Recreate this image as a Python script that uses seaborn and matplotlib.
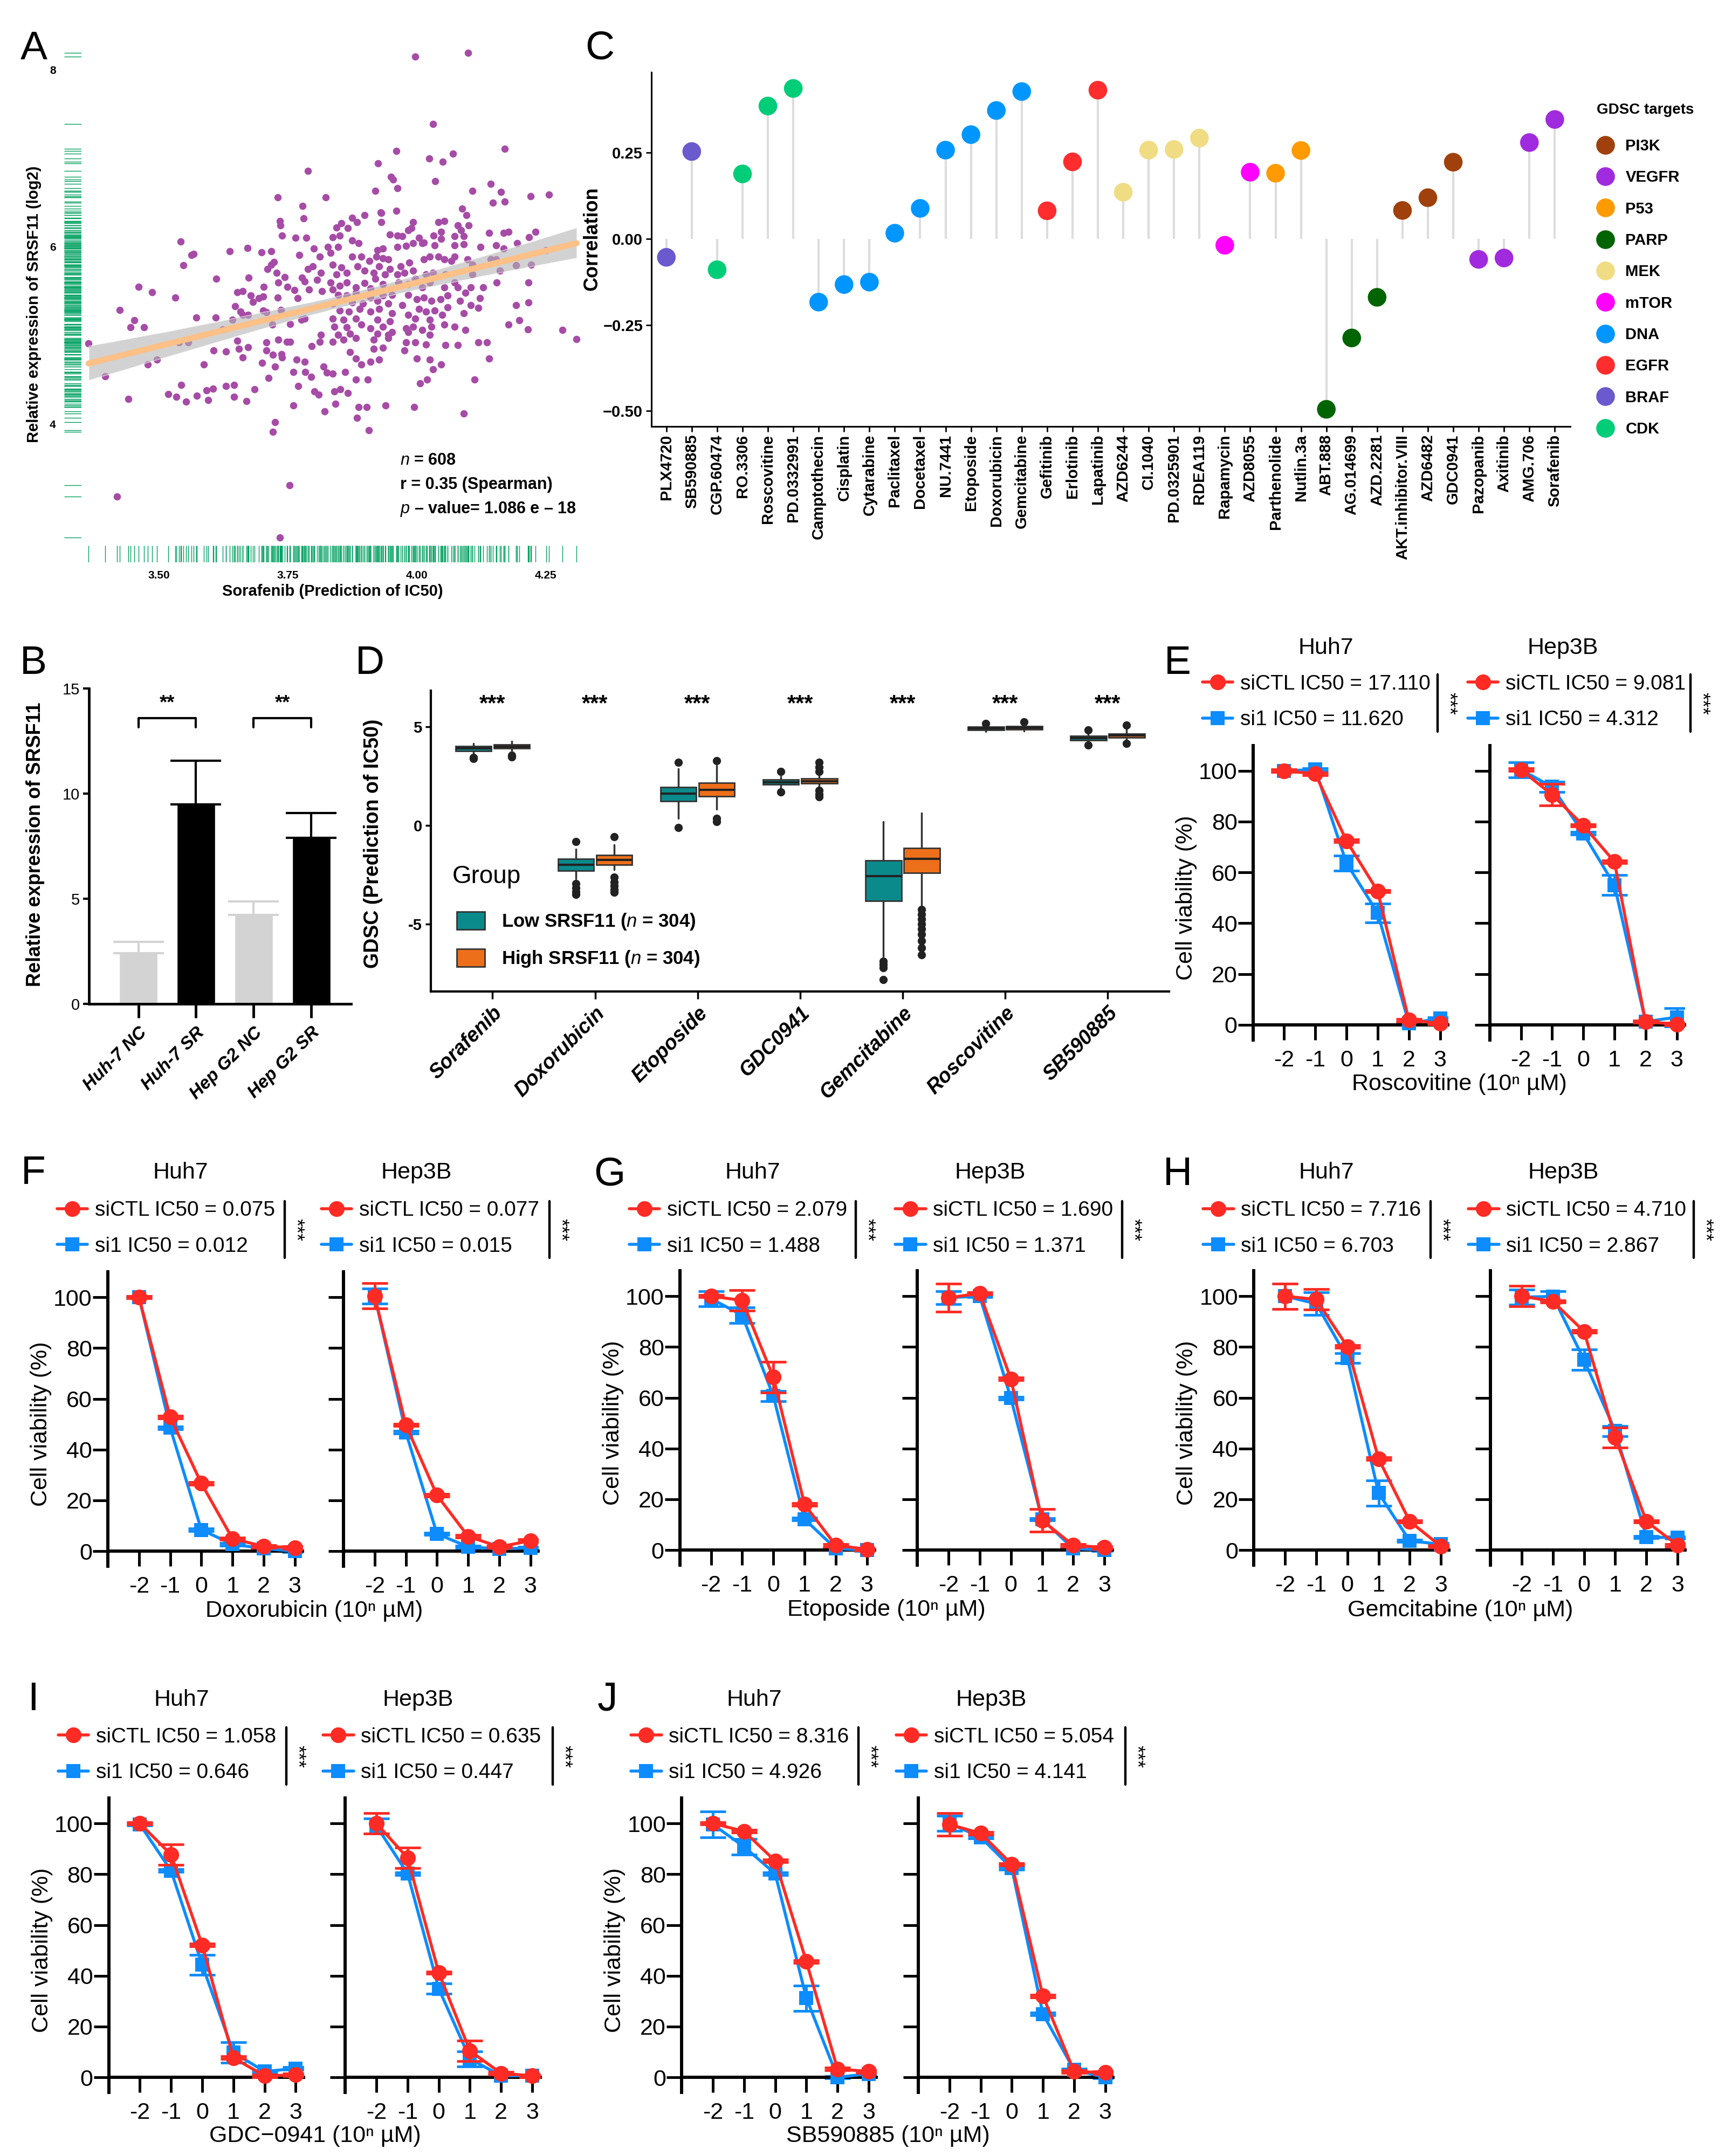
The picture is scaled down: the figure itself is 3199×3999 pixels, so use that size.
import numpy as np
import pandas as pd
import matplotlib
matplotlib.use("Agg")
import matplotlib.pyplot as plt
from matplotlib.lines import Line2D
from matplotlib.patches import Patch
import seaborn as sns

# ---------------- A: Sorafenib predicted IC50 vs SRSF11 ----------------
a_sorafenib = [
    3.997, 4.099, 4.032, 4.171, 3.960, 4.070, 4.024, 4.050, 3.925, 3.950,
    3.954, 4.036, 3.963, 3.920, 4.108, 4.143, 4.163, 4.221, 4.256, 4.148,
    4.171, 4.088, 3.960, 3.930, 3.735,
    3.875, 3.884, 3.899, 3.931, 3.931, 3.993, 4.042, 4.053, 4.096, 4.080, 4.101,
    3.844, 3.854, 3.866, 3.948, 3.962, 3.972, 3.983, 3.990, 4.004, 4.014, 4.033, 4.047,
    4.047, 4.073, 4.086, 4.091, 4.140, 4.168, 4.178, 4.218, 4.230, 3.851, 3.837,
    3.833, 3.847, 3.875, 3.887, 3.924, 3.934, 3.962, 3.979, 3.993, 4.011, 4.035, 4.073,
    4.091, 4.124, 4.154, 4.168, 4.195, 4.251, 3.875, 3.892, 3.908, 3.922, 3.934, 3.945,
    3.837, 3.854, 3.885, 3.899, 3.927, 3.948, 3.969, 3.986, 3.993, 4.014, 4.025, 4.042,
    4.053, 4.067, 4.073, 4.098, 4.108, 4.143, 4.154, 4.161, 4.192, 4.222, 3.844, 3.864,
    3.917, 3.938, 3.962, 3.976, 4.018, 4.032, 4.056, 4.108,
    3.833, 3.851, 3.882, 3.899, 3.920, 3.934, 3.965, 3.983, 3.997, 4.011, 4.025,
    4.053, 4.073, 4.080, 4.105, 4.129, 4.155, 4.216, 3.864, 3.837, 3.910,
    3.847, 3.864, 3.882, 3.910, 3.934, 3.952, 3.983, 4.000, 4.014, 4.028, 4.046, 4.060,
    4.084, 4.094, 4.122, 4.192, 4.216, 3.837, 3.875, 3.896, 3.924, 3.945, 3.972,
    3.851, 3.868, 3.889, 3.910, 3.927, 3.952, 3.983, 4.004, 4.018, 4.035, 4.049,
    4.060, 4.091, 4.105, 4.119, 3.837, 3.858, 3.882, 3.924, 3.948, 3.997, 4.025,
    3.840, 3.864, 3.892, 3.910, 3.934, 3.952, 3.979, 3.993, 4.011, 4.028, 4.053, 4.073,
    4.094, 4.178, 4.199, 4.215, 4.282, 3.847, 3.871, 3.924, 3.945, 3.983, 4.025,
    3.837, 3.858, 3.882, 3.917, 3.945, 3.979, 3.997, 4.018, 4.056, 4.080, 4.119, 4.136,
    4.310, 3.871, 3.917, 3.976, 3.934,
    3.882, 3.892, 3.910, 3.927, 4.000, 4.025, 4.032, 4.047, 4.140, 3.837, 3.861, 3.882,
    3.905, 4.006, 4.020, 4.112,
    3.840, 3.852, 3.866, 3.842, 3.887, 3.903, 3.939, 3.995, 3.884, 4.091, 3.907,
    3.364, 3.396, 3.424, 3.441, 3.445, 3.452, 3.461, 3.471, 3.479, 3.487,
    3.496, 3.518, 3.532, 3.534, 3.539, 3.542, 3.543, 3.547, 3.553, 3.557,
    3.563, 3.567, 3.573, 3.574, 3.587, 3.592, 3.596, 3.605, 3.606, 3.610,
    3.611, 3.624, 3.630, 3.630, 3.637, 3.643, 3.646, 3.646, 3.648, 3.652,
    3.662, 3.652, 3.655, 3.658, 3.662, 3.662, 3.670, 3.672, 3.673, 3.673,
    3.674, 3.678, 3.682, 3.686, 3.694, 3.702, 3.699, 3.700, 3.702, 3.708,
    3.703, 3.708, 3.708, 3.711, 3.718, 3.723, 3.713, 3.718, 3.720, 3.721,
    3.721, 3.725, 3.725, 3.728, 3.730, 3.730, 3.732, 3.732, 3.735, 3.736,
    3.737, 3.738, 3.739, 3.739, 3.744, 3.749, 3.748, 3.755, 3.755, 3.761,
    3.761, 3.763, 3.765, 3.767, 3.769, 3.770, 3.772, 3.776, 3.783, 3.777,
    3.783, 3.779, 3.781, 3.783, 3.784, 3.786, 3.789, 3.789, 3.798, 3.791,
    3.795, 3.796, 3.800, 3.802, 3.810, 3.807, 3.812, 3.814, 3.816, 3.814,
    3.812, 3.819, 3.821, 3.823, 3.826, 3.828, 3.753, 3.419,
]
a_srsf11 = [
    8.15, 8.19, 7.39, 7.11, 7.08, 7.05, 7.00, 6.96, 6.94, 6.79,
    6.76, 6.74, 6.66, 6.63, 6.63, 6.71, 6.62, 6.57, 6.59, 6.50,
    6.51, 6.43, 6.41, 6.39, 2.72,
    6.33, 6.28, 6.36, 6.38, 6.28, 6.28, 6.28, 6.29, 6.36, 6.24, 6.24,
    6.22, 6.27, 6.21, 6.14, 6.13, 6.12, 6.19, 6.21, 6.10, 6.05, 6.13, 6.17,
    6.09, 6.12, 6.19, 6.12, 6.16, 6.16, 6.17, 6.11, 6.17, 6.13, 6.11,
    5.93, 6.00, 6.07, 6.04, 5.96, 5.98, 6.00, 6.01, 6.04, 6.04, 6.02, 6.02,
    6.03, 6.00, 6.02, 5.98, 6.04, 5.96, 5.89, 5.89, 5.84, 5.89, 5.87, 5.86,
    5.80, 5.77, 5.78, 5.73, 5.78, 5.75, 5.78, 5.82, 5.73, 5.86, 5.89, 5.89,
    5.86, 5.84, 5.89, 5.86, 5.80, 5.86, 5.86, 5.73, 5.79, 5.80, 5.69, 5.71,
    5.71, 5.69, 5.69, 5.71, 5.69, 5.71, 5.69, 5.69,
    5.60, 5.56, 5.54, 5.59, 5.64, 5.58, 5.60, 5.58, 5.64, 5.54, 5.60,
    5.54, 5.60, 5.54, 5.54, 5.54, 5.60, 5.60, 5.60, 5.52, 5.53,
    5.46, 5.45, 5.48, 5.43, 5.45, 5.46, 5.46, 5.41, 5.43, 5.39, 5.41, 5.45,
    5.39, 5.48, 5.42, 5.34, 5.37, 5.36, 5.37, 5.36, 5.39, 5.36, 5.34,
    5.28, 5.27, 5.30, 5.27, 5.30, 5.25, 5.23, 5.30, 5.27, 5.28, 5.23,
    5.32, 5.25, 5.34, 5.31, 5.19, 5.18, 5.19, 5.18, 5.16, 5.19, 5.18,
    5.10, 5.09, 5.12, 5.08, 5.10, 5.04, 5.08, 5.10, 5.06, 5.10, 5.12, 5.10,
    5.06, 5.12, 5.17, 5.07, 5.06, 5.01, 5.02, 5.02, 5.01, 5.04, 5.01,
    4.93, 4.95, 4.97, 4.95, 4.97, 4.92, 4.92, 4.90, 4.89, 4.89, 4.92, 4.92,
    4.96, 4.81, 4.85, 4.83, 4.86,
    4.74, 4.67, 4.70, 4.73, 4.74, 4.73, 4.62, 4.67, 4.74, 4.57, 4.59, 4.50,
    4.50, 4.46, 4.50, 4.50,
    4.37, 4.39, 4.35, 4.23, 4.19, 4.19, 4.21, 4.19, 4.07, 4.12, 3.93,
    4.91, 4.54, 5.29, 4.28, 5.09, 5.17, 5.55, 5.09, 4.67, 5.49,
    4.73, 4.34, 5.43, 4.31, 4.92, 6.06, 4.44, 5.79, 4.25, 4.92,
    5.91, 5.92, 5.20, 4.32, 4.67, 4.38, 4.27, 4.40, 4.83, 5.20,
    5.64, 5.07, 4.82, 4.43, 5.95, 5.18, 4.44, 4.31, 5.33, 5.49,
    5.50, 4.94, 4.85, 5.27, 5.23, 4.75, 4.26, 5.99, 5.23, 4.87,
    5.65, 5.45, 5.38, 4.39, 5.42, 5.44, 5.94, 4.69, 5.28, 5.26,
    5.55, 4.92, 4.83, 5.75, 5.80, 5.83, 4.52, 5.95, 5.12, 4.78,
    3.91, 4.65, 4.02, 5.71, 6.56, 5.43, 4.95, 5.60, 6.29, 6.24,
    5.29, 4.79, 4.75, 6.13, 5.66, 5.55, 4.93, 4.93, 5.13, 4.59,
    4.21, 5.51, 6.10, 4.73, 5.42, 4.43, 5.91, 5.18, 5.19, 5.65,
    5.61, 6.46, 6.32, 4.70, 4.59, 6.10, 6.86, 5.75, 5.78, 5.52,
    4.53, 4.88, 5.98, 4.37, 4.33, 5.63, 5.89, 5.71, 5.50, 5.01,
    4.93, 4.65, 4.14, 6.56, 4.58, 6.00, 3.31, 3.18,
]
a_x_ticks = [3.50, 3.75, 4.00, 4.25]
a_x_labels = ['3.50', '3.75', '4.00', '4.25']
a_y_ticks = [4, 6, 8]
a_notes = ['$\\mathit{n}$ = 608', 'r = 0.35 (Spearman)', '$\\mathit{p}$ \u2013 value= 1.086 e \u2013 18']

# ---------------- B: qPCR SRSF11 ----------------
b_groups = ['Huh-7 NC', 'Huh-7 SR', 'Hep G2 NC', 'Hep G2 SR']
b_expr = [2.40, 9.50, 4.23, 7.91]
b_sd = [0.55, 2.07, 0.63, 1.18]
b_colors = ['#D3D3D3', '#000000', '#D3D3D3', '#000000']
b_pairs = [(0, 1), (2, 3)]
b_bracket_y = [13.6, 13.6]
b_sig = ['**', '**']

# ---------------- C: correlation lollipop ----------------
c_drugs = ['PLX4720', 'SB590885', 'CGP.60474', 'RO.3306', 'Roscovitine', 'PD.0332991',
           'Camptothecin', 'Cisplatin', 'Cytarabine', 'Paclitaxel', 'Docetaxel', 'NU.7441',
           'Etoposide', 'Doxorubicin', 'Gemcitabine', 'Gefitinib', 'Erlotinib', 'Lapatinib',
           'AZD6244', 'CI.1040', 'PD.0325901', 'RDEA119', 'Rapamycin', 'AZD8055',
           'Parthenolide', 'Nutlin.3a', 'ABT.888', 'AG.014699', 'AZD.2281', 'AKT.inhibitor.VIII',
           'AZD6482', 'GDC0941', 'Pazopanib', 'Axitinib', 'AMG.706', 'Sorafenib']
c_corr = [-0.054, 0.253, -0.090, 0.188, 0.385, 0.436,
          -0.184, -0.133, -0.126, 0.016, 0.088, 0.257,
          0.302, 0.372, 0.427, 0.081, 0.223, 0.431,
          0.135, 0.257, 0.259, 0.292, -0.019, 0.193,
          0.190, 0.256, -0.495, -0.288, -0.170, 0.082,
          0.119, 0.222, -0.060, -0.056, 0.279, 0.346]
c_targets = ['BRAF', 'BRAF', 'CDK', 'CDK', 'CDK', 'CDK',
             'DNA', 'DNA', 'DNA', 'DNA', 'DNA', 'DNA',
             'DNA', 'DNA', 'DNA', 'EGFR', 'EGFR', 'EGFR',
             'MEK', 'MEK', 'MEK', 'MEK', 'mTOR', 'mTOR',
             'P53', 'P53', 'PARP', 'PARP', 'PARP', 'PI3K',
             'PI3K', 'PI3K', 'VEGFR', 'VEGFR', 'VEGFR', 'VEGFR']
c_target_order = ['PI3K', 'VEGFR', 'P53', 'PARP', 'MEK', 'mTOR', 'DNA', 'EGFR', 'BRAF', 'CDK']
c_target_colors = ['#A0410D', '#A02BDE', '#FF9A00', '#006400', '#F0DC82', '#FF00FF',
                   '#0096FF', '#FF2D2D', '#6A5ACD', '#00CD78']
c_y_ticks = [-0.50, -0.25, 0.00, 0.25]
c_y_labels = ['\u22120.50', '\u22120.25', '0.00', '0.25']

# ---------------- D: GDSC predicted IC50 by SRSF11 group (box statistics) ----------------
d_drugs = ['Sorafenib', 'Doxorubicin', 'Etoposide', 'GDC0941', 'Gemcitabine', 'Roscovitine', 'SB590885']
d_low_med = [3.90, -2.00, 1.62, 2.20, -2.55, 4.92, 4.43]
d_low_q1 = [3.78, -2.28, 1.23, 2.09, -3.81, 4.84, 4.32]
d_low_q3 = [4.02, -1.68, 1.93, 2.33, -1.76, 5.00, 4.53]
d_low_lo = [3.60, -2.70, 0.36, 1.90, -6.64, 4.75, 4.15]
d_low_hi = [4.15, -1.21, 2.88, 2.50, 0.20, 5.08, 4.70]
d_low_out = [[3.45, 3.40], [-0.82, -2.95, -3.15, -3.35, -3.50], [3.19, -0.11], [2.72, 1.70],
             [-6.87, -7.05, -7.19, -7.81], [5.16], [4.84, 4.06]]
d_high_med = [4.00, -1.73, 1.81, 2.25, -1.68, 4.95, 4.56]
d_high_q1 = [3.90, -2.00, 1.49, 2.12, -2.39, 4.87, 4.45]
d_high_q3 = [4.10, -1.49, 2.17, 2.37, -1.13, 5.03, 4.65]
d_high_lo = [3.70, -2.23, 0.83, 1.95, -4.12, 4.78, 4.25]
d_high_hi = [4.25, -0.97, 3.03, 2.60, 0.64, 5.12, 4.85]
d_high_out = [[3.46, 3.55], [-0.58, -2.63, -2.85, -3.05, -3.25, -3.38], [3.27, 0.36, 0.20],
              [2.72, 2.95, 3.19, 1.78, 1.60, 1.46],
              [-4.25, -4.50, -4.75, -5.00, -5.25, -5.50, -5.85, -6.20, -6.56], [5.24], [5.08, 4.14]]
d_star_y = 6.15
d_groups = ['Low SRSF11 ($\\mathit{n}$ = 304)', 'High SRSF11 ($\\mathit{n}$ = 304)']

# ---------------- E-J: cell viability curves (mean, SD) ----------------
dose = [-2, -1, 0, 1, 2, 3]
dose_labels = ['-2', '-1', '0', '1', '2', '3']
viab_ticks = [0, 20, 40, 60, 80, 100]

e_huh7_ctl = [100, 98.8, 72.4, 52.6, 1.8, 0.6]
e_huh7_ctl_err = [0.5, 0.5, 0.5, 0.5, 0.5, 0.5]
e_huh7_si = [100, 100.5, 63.6, 44.0, 0.6, 2.4]
e_huh7_si_err = [0.5, 0.5, 3.0, 3.7, 0.5, 0.5]
e_hep_ctl = [100.4, 90.6, 78.5, 64.2, 1.2, 0.2]
e_hep_ctl_err = [0.5, 4.3, 0.5, 0.5, 0.5, 0.5]
e_hep_si = [100.4, 93.7, 75.4, 55.0, 1.2, 3.0]
e_hep_si_err = [3.0, 2.0, 0.5, 4.0, 0.5, 3.6]
e_ic50 = [('17.110', '11.620'), ('9.081', '4.312')]

f_huh7_ctl = [100, 52.8, 26.7, 4.9, 1.9, 1.4]
f_huh7_ctl_err = [0.5, 0.5, 0.5, 0.5, 0.5, 0.5]
f_huh7_si = [100, 48.6, 8.4, 2.7, 1.0, 0.0]
f_huh7_si_err = [0.5, 0.5, 0.5, 0.5, 0.5, 0.5]
f_hep_ctl = [100.5, 49.7, 22.0, 5.8, 1.7, 4.1]
f_hep_ctl_err = [5.0, 0.5, 0.5, 0.5, 0.5, 0.5]
f_hep_si = [100.5, 46.8, 6.8, 1.7, 0.9, 1.3]
f_hep_si_err = [3.0, 0.5, 0.5, 0.5, 0.5, 0.5]
f_ic50 = [('0.075', '0.012'), ('0.077', '0.015')]

g_huh7_ctl = [100, 98.3, 68.1, 18.0, 1.9, 0.3]
g_huh7_ctl_err = [0.5, 4.0, 6.0, 0.5, 0.5, 0.5]
g_huh7_si = [99.0, 92.5, 60.7, 12.2, 0.6, 0.0]
g_huh7_si_err = [3.0, 3.0, 2.0, 0.5, 0.5, 0.5]
g_hep_ctl = [99.4, 101.1, 67.4, 11.7, 1.9, 1.0]
g_hep_ctl_err = [5.5, 0.5, 0.5, 4.5, 0.5, 0.5]
g_hep_si = [99.4, 100.0, 59.8, 12.1, 0.6, 0.0]
g_hep_si_err = [2.5, 0.5, 0.5, 0.5, 0.5, 0.5]
g_ic50 = [('2.079', '1.488'), ('1.690', '1.371')]

h_huh7_ctl = [100, 98.7, 80.1, 36.0, 11.3, 1.5]
h_huh7_ctl_err = [5.0, 4.0, 0.5, 0.5, 0.5, 0.5]
h_huh7_si = [100, 97.0, 75.6, 22.5, 3.6, 2.3]
h_huh7_si_err = [5.0, 4.5, 2.0, 5.0, 0.5, 0.5]
h_hep_ctl = [100, 97.9, 86.1, 44.3, 11.3, 1.9]
h_hep_ctl_err = [4.0, 0.5, 0.5, 4.0, 0.5, 0.5]
h_hep_si = [99.6, 99.9, 74.9, 46.9, 5.1, 4.9]
h_hep_si_err = [3.0, 2.0, 4.0, 2.0, 0.5, 0.5]
h_ic50 = [('7.716', '6.703'), ('4.710', '2.867')]

i_huh7_ctl = [100, 87.7, 52.1, 7.7, 0.6, 1.0]
i_huh7_ctl_err = [0.5, 4.0, 0.5, 0.5, 0.5, 0.5]
i_huh7_si = [99.6, 81.4, 44.3, 9.8, 2.3, 3.5]
i_huh7_si_err = [0.5, 0.5, 4.0, 4.0, 0.5, 0.5]
i_hep_ctl = [100, 86.4, 41.2, 10.4, 1.6, 0.6]
i_hep_ctl_err = [4.0, 4.0, 0.5, 4.0, 0.5, 0.5]
i_hep_si = [99.0, 80.2, 34.9, 7.3, 0.6, 0.6]
i_hep_si_err = [3.0, 0.5, 2.0, 3.0, 0.5, 0.5]
i_ic50 = [('1.058', '0.646'), ('0.635', '0.447')]

j_huh7_ctl = [100, 96.9, 85.2, 45.6, 3.3, 2.3]
j_huh7_ctl_err = [0.5, 0.5, 0.5, 0.5, 0.5, 0.5]
j_huh7_si = [99.6, 90.8, 80.2, 31.2, 0.0, 1.4]
j_huh7_si_err = [5.0, 3.0, 0.5, 5.0, 0.5, 0.5]
j_hep_ctl = [99.6, 96.1, 83.9, 32.0, 2.3, 1.9]
j_hep_ctl_err = [4.5, 0.5, 0.5, 0.5, 0.5, 0.5]
j_hep_si = [100, 94.6, 82.3, 24.9, 2.9, 0.0]
j_hep_si_err = [3.0, 0.5, 0.5, 0.5, 0.5, 0.5]
j_ic50 = [('8.316', '4.926'), ('5.054', '4.141')]

cell_lines = ['Huh7', 'Hep3B']

# ---------------- style ----------------
sns.set_style('ticks')
plt.rcParams['font.family'] = ['Liberation Sans', 'DejaVu Sans']
plt.rcParams['mathtext.fontset'] = 'custom'
plt.rcParams['mathtext.rm'] = 'Liberation Sans'
plt.rcParams['mathtext.it'] = 'Liberation Sans:italic'
plt.rcParams['mathtext.bf'] = 'Liberation Sans:bold'
for k in ['text.color', 'axes.labelcolor', 'xtick.color', 'ytick.color', 'axes.edgecolor']:
    plt.rcParams[k] = 'black'

RED = '#FF2B24'
BLUE = '#0C8CFF'
GREEN_RUG = '#00A060'

W, H = 3199, 3999
fig = plt.figure(figsize=(W / 100, H / 100), dpi=100)
fig.patch.set_facecolor('white')


def box(left, top, right, bottom):
    return [left / W, 1 - bottom / H, (right - left) / W, (bottom - top) / H]


def fx(x):
    return x / W


def fy(y):
    return 1 - y / H


# ---------------- panel A ----------------
ax_a = fig.add_axes(box(152, 85, 1079, 1005))
sns.regplot(x=a_sorafenib, y=a_srsf11, ax=ax_a, ci=95, seed=0,
            scatter_kws=dict(s=95, color='#A64CA6', linewidths=0, alpha=1),
            line_kws=dict(color='#FDC086', lw=8))
band = ax_a.collections[-1]
band.set_facecolor('#B4B4B4')
band.set_alpha(0.6)
ax_a.set_xlim(3.351, 4.320)
ax_a.set_ylim(2.67, 8.27)
ax_a.axis('off')

ax_ly = fig.add_axes(box(119, 85, 151, 1005))
sns.rugplot(y=a_srsf11, ax=ax_ly, height=1, color=GREEN_RUG, lw=2.6, expand_margins=False)
ax_ly.set_ylim(2.67, 8.27)
ax_ly.set_xlim(0, 1)
ax_ly.set_xticks([])
ax_ly.set_yticks(a_y_ticks)
ax_ly.set_yticklabels([str(t) for t in a_y_ticks], fontsize=15, fontweight='bold')
ax_ly.tick_params(axis='y', length=0, pad=11)
for s in ax_ly.spines.values():
    s.set_visible(False)
ax_ly.set_facecolor('none')

ax_lx = fig.add_axes(box(152, 1012, 1079, 1043))
sns.rugplot(x=a_sorafenib, ax=ax_lx, height=1, color=GREEN_RUG, lw=2.6, expand_margins=False)
ax_lx.set_xlim(3.351, 4.320)
ax_lx.set_ylim(0, 1)
ax_lx.set_yticks([])
ax_lx.set_xticks(a_x_ticks)
ax_lx.set_xticklabels(a_x_labels, fontsize=15, fontweight='bold')
ax_lx.tick_params(axis='x', length=0, pad=11)
for s in ax_lx.spines.values():
    s.set_visible(False)
ax_lx.set_facecolor('none')

fig.text(fx(63), fy(564), 'Relative expression of SRSF11 (log2)', rotation=90,
         ha='center', va='center', fontsize=21, fontweight='bold')
fig.text(fx(617), fy(1097), 'Sorafenib (Prediction of IC50)', ha='center', va='center',
         fontsize=21, fontweight='bold')
for k, note in enumerate(a_notes):
    fig.text(fx(742), fy(854 + 45 * k), note, ha='left', va='center', fontsize=22, fontweight='bold')

# ---------------- panel C ----------------
ax_c = fig.add_axes(box(1207.5, 134, 2911.6, 790.5))
c_pos = np.arange(len(c_drugs))
ax_c.vlines(c_pos, 0, c_corr, color='#DDDDDD', lw=3, zorder=1)
sns.scatterplot(x=c_pos, y=c_corr, hue=c_targets, hue_order=c_target_order,
                palette=dict(zip(c_target_order, c_target_colors)), s=620, linewidth=0,
                legend=False, ax=ax_c, zorder=3)
ax_c.set_xlim(-0.6, 35.6)
ax_c.set_ylim(-0.544, 0.483)
ax_c.set_xticks(c_pos)
ax_c.set_xticklabels(c_drugs, rotation=90, fontsize=21, fontweight='bold')
ax_c.set_yticks(c_y_ticks)
ax_c.set_yticklabels(c_y_labels, fontsize=21, fontweight='bold')
ax_c.tick_params(length=7, width=2, pad=4)
sns.despine(ax=ax_c)
for s in ['left', 'bottom']:
    ax_c.spines[s].set_linewidth(2.2)
fig.text(fx(1098), fy(443), 'Correlation', rotation=90, ha='center', va='center',
         fontsize=26, fontweight='bold')
fig.text(fx(2961), fy(204), 'GDSC targets', ha='left', va='center', fontsize=20, fontweight='bold')
c_handles = [Line2D([], [], ls='', marker='o', ms=25, color=c, markeredgewidth=0) for c in c_target_colors]
ax_c.legend(c_handles, c_target_order, loc='upper left', bbox_to_anchor=(fx(2959), fy(257)),
            bbox_transform=fig.transFigure, frameon=False, borderpad=0, borderaxespad=0,
            handlelength=1.2, handletextpad=0.7, labelspacing=1.04,
            prop=dict(size=21, weight='bold'))

# ---------------- panel B ----------------
ax_b = fig.add_axes(box(164.5, 1277.4, 651.3, 1861.8))
sns.barplot(x=b_groups, y=b_expr, hue=b_groups, palette=b_colors, legend=False, width=0.67,
            saturation=1, errorbar=None, ax=ax_b)
for i in range(len(b_groups)):
    ax_b.errorbar(i, b_expr[i], yerr=[[0], [b_sd[i]]], fmt='none', ecolor=b_colors[i],
                  elinewidth=3, capsize=34, capthick=3)
for (i, j), yb, sig in zip(b_pairs, b_bracket_y, b_sig):
    ax_b.plot([i, i, j, j], [yb - 0.45, yb, yb, yb - 0.45], color='black', lw=3)
    ax_b.text((i + j) / 2, yb + 0.25, sig, ha='center', va='bottom', fontsize=26, fontweight='bold')
ax_b.set_xlim(-0.86, 3.69)
ax_b.set_ylim(0, 15)
ax_b.set_yticks([0, 5, 10, 15])
ax_b.set_yticklabels(['0', '5', '10', '15'], fontsize=21)
ax_b.set_xticks(range(len(b_groups)))
ax_b.set_xticklabels(b_groups, rotation=45, ha='right', rotation_mode='anchor',
                     fontsize=24, fontweight='bold', fontstyle='italic')
ax_b.tick_params(axis='x', length=19, width=3.5, pad=8)
ax_b.tick_params(axis='y', length=8, width=3, pad=4)
sns.despine(ax=ax_b)
for s in ['left', 'bottom']:
    ax_b.spines[s].set_linewidth(3.5)
ax_b.set_xlabel('')
ax_b.set_ylabel('')
fig.text(fx(66), fy(1566), 'Relative expression of SRSF11', rotation=90, ha='center', va='center',
         fontsize=26, fontweight='bold')

# ---------------- panel D ----------------
D_LOW = '#0B8A8C'
D_HIGH = '#EE6F1A'


def box_stats(med, q1, q3, lo, hi, out):
    return [dict(med=m, q1=a, q3=b, whislo=c, whishi=d, fliers=f)
            for m, a, b, c, d, f in zip(med, q1, q3, lo, hi, out)]


ax_d = fig.add_axes(box(799.4, 1280.9, 2168, 1838.9))
d_pos = np.arange(len(d_drugs))
for stats, offset, col in [(box_stats(d_low_med, d_low_q1, d_low_q3, d_low_lo, d_low_hi, d_low_out), -0.187, D_LOW),
                           (box_stats(d_high_med, d_high_q1, d_high_q3, d_high_lo, d_high_hi, d_high_out), 0.187, D_HIGH)]:
    ax_d.bxp(stats, positions=d_pos + offset, widths=0.35, patch_artist=True, showcaps=False,
             manage_ticks=False,
             boxprops=dict(facecolor=col, edgecolor='#333333', lw=2),
             medianprops=dict(color='#222222', lw=3),
             whiskerprops=dict(color='#333333', lw=2.5),
             flierprops=dict(marker='o', markerfacecolor='#222222', markeredgecolor='#222222', markersize=10))
for p in d_pos:
    ax_d.text(p, d_star_y, '***', ha='center', va='center', fontsize=30, fontweight='bold')
ax_d.set_xlim(-0.6, 6.6)
ax_d.set_ylim(-8.4, 6.83)
ax_d.set_yticks([-5, 0, 5])
ax_d.set_yticklabels(['-5', '0', '5'], fontsize=21, fontweight='bold')
ax_d.set_xticks(d_pos)
ax_d.set_xticklabels(d_drugs, rotation=45, ha='right', rotation_mode='anchor',
                     fontsize=27, fontweight='bold', fontstyle='italic')
ax_d.tick_params(axis='x', length=10, width=2.5, pad=6)
ax_d.tick_params(axis='y', length=7, width=2.5, pad=5)
sns.despine(ax=ax_d)
for s in ['left', 'bottom']:
    ax_d.spines[s].set_linewidth(3)
fig.text(fx(692), fy(1565), 'GDSC (Prediction of IC50)', rotation=90, ha='center', va='center',
         fontsize=27, fontweight='bold')
fig.text(fx(839), fy(1626), 'Group', ha='left', va='center', fontsize=33)
d_handles = [Patch(facecolor=D_LOW, edgecolor='#333333', lw=2), Patch(facecolor=D_HIGH, edgecolor='#333333', lw=2)]
ax_d.legend(d_handles, d_groups, loc='center left', bbox_to_anchor=(fx(847), fy(1744)),
            bbox_transform=fig.transFigure, frameon=False, borderpad=0, borderaxespad=0,
            handlelength=1.5, handleheight=1.1, handletextpad=0.9, labelspacing=0.9,
            prop=dict(size=25, weight='bold'))

# ---------------- panels E-J ----------------
AX_W = 6.25 * 57.8
AX_H = 116 * 4.71


def draw_curve(ax, ctl, ctl_err, si, si_err, show_labels):
    ax.errorbar(dose, si, yerr=si_err, fmt='none', ecolor=BLUE, elinewidth=3.5, capsize=17,
                capthick=3.5, zorder=2)
    sns.lineplot(x=dose, y=si, ax=ax, color=BLUE, lw=4, marker='s', markersize=19,
                 markeredgewidth=0, errorbar=None, zorder=3)
    ax.errorbar(dose, ctl, yerr=ctl_err, fmt='none', ecolor=RED, elinewidth=3.5, capsize=17,
                capthick=3.5, zorder=3.5)
    sns.lineplot(x=dose, y=ctl, ax=ax, color=RED, lw=4, marker='o', markersize=21,
                 markeredgewidth=0, errorbar=None, zorder=4)
    ax.set_xlim(-3, 3.25)
    ax.set_ylim(-6, 110)
    ax.spines['top'].set_visible(False)
    ax.spines['right'].set_visible(False)
    ax.spines['bottom'].set_position(('data', 0))
    for s in ['left', 'bottom']:
        ax.spines[s].set_linewidth(4.3)
    ax.set_xticks(dose)
    ax.set_xticklabels(dose_labels)
    ax.set_yticks(viab_ticks)
    ax.tick_params(axis='both', direction='out', length=20, width=3.6, labelsize=31)
    ax.tick_params(axis='x', pad=13)
    ax.tick_params(axis='y', pad=1, labelleft=show_labels)
    ax.set_xlabel('')
    ax.set_ylabel('')
    ax.set_facecolor('none')


curve_panels = [
    dict(letter='E', letter_xy=(2184, 1230), drug='Roscovitine', lefts=(2323.7, 2762.7), top=1382.6,
         title_y=1202, rows=(1265, 1339), xlab_y=2011, bars=(342, 372),
         cells=[(e_huh7_ctl, e_huh7_ctl_err, e_huh7_si, e_huh7_si_err),
                (e_hep_ctl, e_hep_ctl_err, e_hep_si, e_hep_si_err)], ic50=e_ic50),
    dict(letter='F', letter_xy=(62, 2176), drug='Doxorubicin', lefts=(200, 637), top=2359,
         title_y=2175, rows=(2242, 2315), xlab_y=2988, bars=(328, 382),
         cells=[(f_huh7_ctl, f_huh7_ctl_err, f_huh7_si, f_huh7_si_err),
                (f_hep_ctl, f_hep_ctl_err, f_hep_si, f_hep_si_err)], ic50=f_ic50),
    dict(letter='G', letter_xy=(1130, 2179), drug='Etoposide', lefts=(1260.7, 1701.3), top=2357,
         title_y=2175, rows=(2242, 2315), xlab_y=2986, bars=(326, 380),
         cells=[(g_huh7_ctl, g_huh7_ctl_err, g_huh7_si, g_huh7_si_err),
                (g_hep_ctl, g_hep_ctl_err, g_hep_si, g_hep_si_err)], ic50=g_ic50),
    dict(letter='H', letter_xy=(2184, 2179), drug='Gemcitabine', lefts=(2325.3, 2764.2), top=2357,
         title_y=2175, rows=(2242, 2315), xlab_y=2987, bars=(328, 377),
         cells=[(h_huh7_ctl, h_huh7_ctl_err, h_huh7_si, h_huh7_si_err),
                (h_hep_ctl, h_hep_ctl_err, h_hep_si, h_hep_si_err)], ic50=h_ic50),
    dict(letter='I', letter_xy=(62, 3153), drug='GDC\u22120941', lefts=(201.6, 640.3), top=3335,
         title_y=3153, rows=(3218, 3292), xlab_y=3962, bars=(329, 385),
         cells=[(i_huh7_ctl, i_huh7_ctl_err, i_huh7_si, i_huh7_si_err),
                (i_hep_ctl, i_hep_ctl_err, i_hep_si, i_hep_si_err)], ic50=i_ic50),
    dict(letter='J', letter_xy=(1127, 3153), drug='SB590885', lefts=(1264.2, 1703), top=3335,
         title_y=3153, rows=(3218, 3292), xlab_y=3962, bars=(328, 384),
         cells=[(j_huh7_ctl, j_huh7_ctl_err, j_huh7_si, j_huh7_si_err),
                (j_hep_ctl, j_hep_ctl_err, j_hep_si, j_hep_si_err)], ic50=j_ic50),
]

handle_offsets = (-94, -41)
for pnl in curve_panels:
    r1, r2 = pnl['rows']
    for k, left in enumerate(pnl['lefts']):
        ax = fig.add_axes(box(left, pnl['top'], left + AX_W, pnl['top'] + AX_H))
        ctl, ctl_err, si, si_err = pnl['cells'][k]
        draw_curve(ax, ctl, ctl_err, si, si_err, show_labels=(k == 0))
        fig.text(fx(left + 135), fy(pnl['title_y']), cell_lines[k], ha='center', va='center', fontsize=31)
        handles = [Line2D([], [], color=RED, marker='o', ms=21, lw=4, markeredgewidth=0),
                   Line2D([], [], color=BLUE, marker='s', ms=19, lw=4, markeredgewidth=0)]
        ctl_ic, si_ic = pnl['ic50'][k]
        ax.legend(handles, [f'siCTL IC50 = {ctl_ic}', f'si1 IC50 = {si_ic}'], loc='center left',
                  bbox_to_anchor=(fx(left + handle_offsets[k]), fy((r1 + r2) / 2)),
                  bbox_transform=fig.transFigure, frameon=False, fontsize=28, handlelength=1.45,
                  handletextpad=0.35, labelspacing=0.78, borderpad=0, borderaxespad=0)
        bx = left + pnl['bars'][k]
        fig.add_artist(Line2D([fx(bx), fx(bx)], [fy(r1 - 14), fy(r2 + 18)], color='black', lw=3.2))
        fig.text(fx(bx + 19), fy((r1 + r2) / 2 + 3), '***', rotation=270, ha='center', va='center',
                 fontsize=26)
    left0 = pnl['lefts'][0]
    fig.text(fx(left0 - 124), fy(pnl['top'] + 60 * 4.71), 'Cell viability (%)', rotation=90,
             ha='center', va='center', fontsize=31)
    fig.text(fx(left0 + 383), fy(pnl['xlab_y']), pnl['drug'] + ' (10\u207f \u00b5M)',
             ha='center', va='center', fontsize=31)
    fig.text(fx(pnl['letter_xy'][0]), fy(pnl['letter_xy'][1]), pnl['letter'], ha='center',
             va='center', fontsize=54)

# ---------------- remaining panel letters ----------------
for letter, (lx, ly) in [('A', (63, 90)), ('C', (1112, 90)), ('B', (62, 1230)), ('D', (686, 1230))]:
    fig.text(fx(lx), fy(ly), letter, ha='center', va='center', fontsize=54)

fig.savefig('out.png', dpi=100, facecolor='white')
